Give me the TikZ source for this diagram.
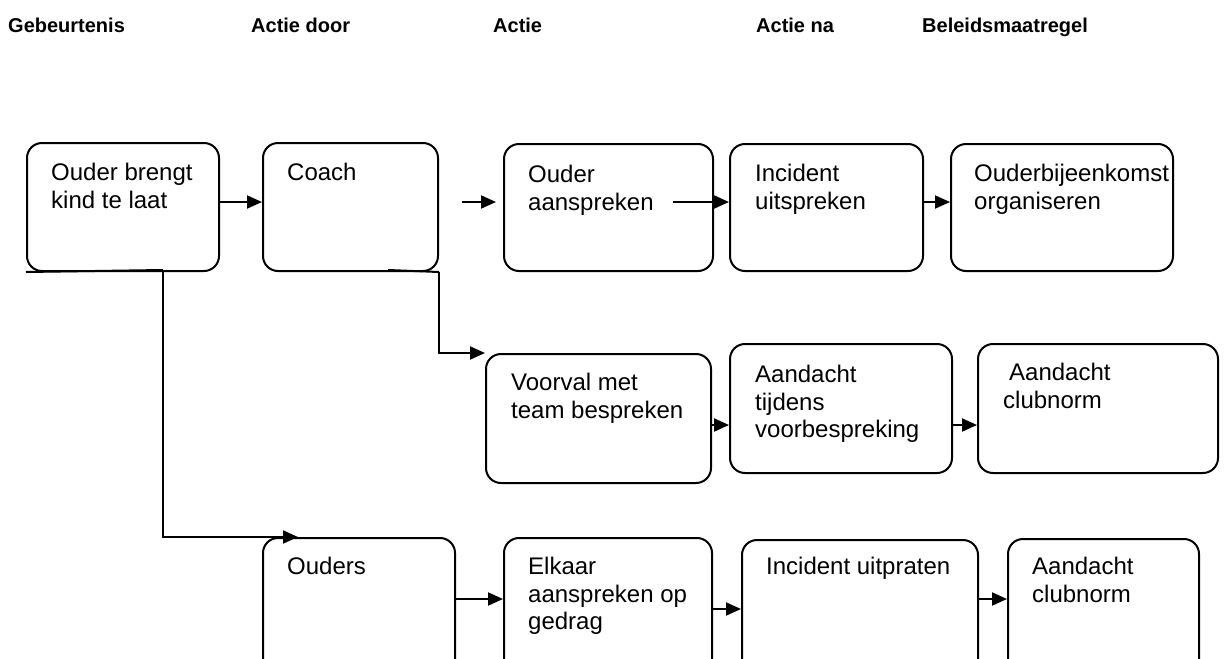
\documentclass[tikz,border=0pt]{standalone}
\usepackage{fontspec}
\setmainfont{Liberation Sans}
\usetikzlibrary{arrows.meta}
\begin{document}
\begin{tikzpicture}[x=1pt,y=-1pt,
  box/.style={draw,line width=2pt,rounded corners=15pt,anchor=north west,inner sep=0pt},
  txt/.style={anchor=north west,inner sep=0pt,align=left,font=\fontsize{24}{27.5}\selectfont},
  hdr/.style={anchor=base west,inner sep=0pt,font=\fontsize{20}{24}\selectfont\bfseries},
  ln/.style={line width=2pt},
  arr/.style={line width=2pt,-{Triangle[length=15pt,width=13pt]}}]
\useasboundingbox (0,0) rectangle (1227,659);
\clip (0,0) rectangle (1227,659);
% headers
\node[hdr] (h1) at (8,32) {Gebeurtenis};
\node[hdr] (h2) at (251,32) {Actie door};
\node[hdr] (h3) at (493,32) {Actie};
\node[hdr] (h4) at (756,32) {Actie na};
\node[hdr] (h5) at (922,32) {Beleidsmaatregel};
% boxes row 1
\node[box,minimum width=192pt,minimum height=128pt] (A) at (26,142) {};
\node[box,minimum width=175pt,minimum height=128pt] (B) at (262,142) {};
\node[box,minimum width=209pt,minimum height=127pt] (C) at (503,143) {};
\node[box,minimum width=193pt,minimum height=127pt] (D) at (729,143) {};
\node[box,minimum width=222pt,minimum height=127pt] (E) at (950,143) {};
% row 2
\node[box,minimum width=225pt,minimum height=129pt] (F) at (485,353) {};
\node[box,minimum width=222pt,minimum height=129pt] (G) at (729,343) {};
\node[box,minimum width=240pt,minimum height=129pt] (H) at (977,343) {};
% row 3
\node[box,minimum width=192pt,minimum height=150pt] (I) at (262,537) {};
\node[box,minimum width=208pt,minimum height=150pt] (J) at (503,537) {};
\node[box,minimum width=236pt,minimum height=150pt] (K) at (741,539) {};
\node[box,minimum width=191pt,minimum height=150pt] (L) at (1007,538) {};
% texts
\node[txt] (tA) at (51,163) {Ouder brengt\\kind te laat};
\node[txt] (tB) at (287,163) {Coach};
\node[txt] (tC) at (528,165) {Ouder\\aanspreken};
\node[txt] (tD) at (755,164) {Incident\\uitspreken};
\node[txt] (tE) at (974,164) {Ouderbijeenkomst\\organiseren};
\node[txt] (tF) at (511,373) {Voorval met\\team bespreken};
\node[txt] (tG) at (755,365) {Aandacht\\tijdens\\voorbespreking};
\node[txt] (tH) at (1003,363) {\hspace{6pt}Aandacht\\clubnorm};
\node[txt] (tI) at (287,557) {Ouders};
\node[txt] (tJ) at (528,557) {Elkaar\\aanspreken op\\gedrag};
\node[txt] (tK) at (766,557) {Incident uitpraten};
\node[txt] (tL) at (1032,557) {Aandacht\\clubnorm};
% helper coordinates
\coordinate (r1) at (0,202);
\coordinate (r2) at (0,425);
\coordinate (r3) at (0,599);
\coordinate (r4) at (0,609);
\coordinate (f1) at (462,202);
\coordinate (f2) at (496,202);
\coordinate (f3) at (673,202);
\coordinate (j1) at (163,270);
\coordinate (t1) at (298,537);
\coordinate (c0) at (388,270);
% connectors
\draw[arr] (A.east |- r1) -- (B.west |- r1);
\draw[arr] (f1) -- (f2);
\draw[arr] (f3) -- (D.west |- r1);
\draw[arr] (D.east |- r1) -- (E.west |- r1);
\draw[ln] (A.south west) -- (j1);
\draw[arr] (j1) |- (t1);
\draw[ln] (c0) -- (B.south east);
\draw[arr] (B.south east) |- (F.north west);
\draw[arr] (F.east |- r2) -- (G.west |- r2);
\draw[arr] (G.east |- r2) -- (H.west |- r2);
\draw[arr] (I.east |- r3) -- (J.west |- r3);
\draw[arr] (J.east |- r4) -- (K.west |- r4);
\draw[arr] (K.east |- r3) -- (L.west |- r3);
\end{tikzpicture}
\end{document}
